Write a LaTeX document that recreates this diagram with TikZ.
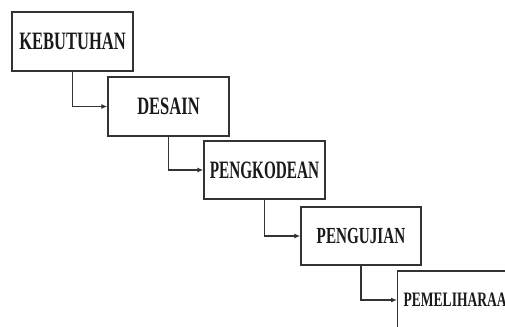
\documentclass[tikz,border=0pt]{standalone}
\usepackage{fontspec}
\usetikzlibrary{arrows.meta}
\newfontfamily\boxfont{Liberation Serif}[FakeStretch=0.66]
\newfontfamily\narrowfont{Liberation Serif}[FakeStretch=0.61]
\begin{document}
\begin{tikzpicture}[x=1pt,y=-1pt,
  stepbox/.style={draw=black!80,line width=1.3pt,fill=white,minimum width=121pt,minimum height=59pt,inner sep=0pt,
    font=\boxfont\bfseries\fontsize{25}{25}\selectfont,text=black!90},
  flow/.style={draw=black!80,line width=1.2pt,-{Latex[length=6pt,width=5pt]}}]
\fill[white] (0,0) rectangle (505,326);
\useasboundingbox (0,0) rectangle (505,326);
\clip (0,0) rectangle (505,326);
\node[stepbox] (b1) at (72.5,41.5) {KEBUTUHAN};
\node[stepbox] (b2) at (168.5,106.5) {DESAIN};
\node[stepbox,minimum height=58pt,font=\narrowfont\bfseries\fontsize{25}{25}\selectfont] (b3) at (264.5,170) {PENGKODEAN};
\node[stepbox,minimum width=120pt,minimum height=58pt,font=\boxfont\bfseries\fontsize{23}{23}\selectfont] (b4) at (361,236) {PENGUJIAN};
\node[stepbox,minimum width=120pt,minimum height=58pt,anchor=west,inner xsep=6pt,font=\boxfont\bfseries\fontsize{20.5}{20.5}\selectfont] (b5) at (397,300) {PEMELIHARAAN};
\draw[flow] (b1.south) |- (b2.west);
\draw[flow] (b2.south) |- (b3.west);
\draw[flow] (b3.south) |- (b4.west);
\draw[flow] (b4.south) |- (b5.west);
\end{tikzpicture}
\end{document}
